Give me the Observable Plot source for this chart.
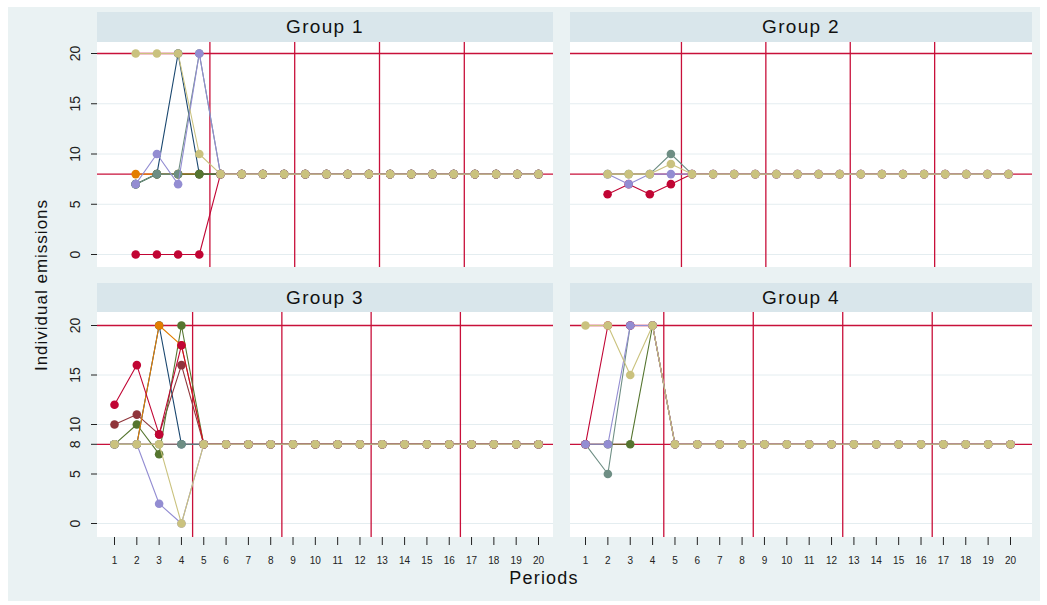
<!DOCTYPE html>
<html><head><meta charset="utf-8">
<script src="https://cdn.jsdelivr.net/npm/d3@7"></script>
<script src="https://cdn.jsdelivr.net/npm/@observablehq/plot@0.6"></script>
<style>
body{margin:0;background:#fff;font-family:"Liberation Sans",Arial,sans-serif;}
#root{position:relative;width:1047px;height:605px;overflow:hidden;}
.bg{position:absolute;left:8px;top:7px;width:1032px;height:594px;background:#eaf2f3;}
.hdr{position:absolute;background:#d9e6eb;color:#111;font-size:19px;letter-spacing:1.3px;display:flex;align-items:center;justify-content:center;}
.panel{position:absolute;}
.panel svg{display:block;overflow:visible;}
.ttl{position:absolute;font-size:17px;letter-spacing:1px;color:#111;white-space:nowrap;}
</style></head><body>
<div id="root">
  <div class="bg"></div>
  <div class="hdr" style="left:97px;top:12px;width:456px;height:30px;">Group 1</div>
  <div class="hdr" style="left:570px;top:12px;width:462px;height:30px;">Group 2</div>
  <div class="hdr" style="left:97px;top:283px;width:456px;height:29px;">Group 3</div>
  <div class="hdr" style="left:570px;top:283px;width:462px;height:29px;">Group 4</div>
  <div id="p1" class="panel"></div>
  <div id="p2" class="panel"></div>
  <div id="p3" class="panel"></div>
  <div id="p4" class="panel"></div>
  <div class="ttl" style="left:42px;top:285px;transform:translate(-50%,-50%) rotate(-90deg);">Individual emissions</div>
  <div class="ttl" style="left:544px;top:578px;font-size:18px;letter-spacing:1.2px;transform:translate(-50%,-50%);">Periods</div>
</div>
<script>
// ---- data ----
const periods = [1,2,3,4,5,6,7,8,9,10,11,12,13,14,15,16,17,18,19,20];
const seriesNames  = ["navy","maroon","forest","orange","teal","cranberry","lavender","khaki"];
const seriesColors = ["#1a476f","#90353b","#55752f","#e37e00","#6e8e84","#c10534","#938dd2","#cac27e"];
const refPeriods = [4.5, 8.5, 12.5, 16.5];
const refLevels = [8, 20];
const yTicksTop = [0, 5, 10, 15, 20];
const yTicksBottom = [0, 5, 8, 10, 15, 20];

// Group 1
const g1Orange    = [8,8,8,8,8,8,8,8,8,8,8,8,8,8,8,8,8,8,8,8];
const g1Navy      = [7,8,20,8,8,8,8,8,8,8,8,8,8,8,8,8,8,8,8,8];
const g1Forest    = [7,8,8,8,8,8,8,8,8,8,8,8,8,8,8,8,8,8,8,8];
const g1Teal      = [7,8,8,20,8,8,8,8,8,8,8,8,8,8,8,8,8,8,8,8];
const g1Cranberry = [0,0,0,0,8,8,8,8,8,8,8,8,8,8,8,8,8,8,8,8];
const g1Lavender  = [7,10,7,20,8,8,8,8,8,8,8,8,8,8,8,8,8,8,8,8];
const g1Khaki     = [20,20,20,10,8,8,8,8,8,8,8,8,8,8,8,8,8,8,8,8];
// Group 2
const g2Teal      = [8,8,8,10,8,8,8,8,8,8,8,8,8,8,8,8,8,8,8,8];
const g2Cranberry = [6,7,6,7,8,8,8,8,8,8,8,8,8,8,8,8,8,8,8,8];
const g2Lavender  = [8,7,8,8,8,8,8,8,8,8,8,8,8,8,8,8,8,8,8,8];
const g2Khaki     = [8,8,8,9,8,8,8,8,8,8,8,8,8,8,8,8,8,8,8,8];
// Group 3
const g3Navy      = [8,8,20,8,8,8,8,8,8,8,8,8,8,8,8,8,8,8,8,8];
const g3Maroon    = [10,11,9,16,8,8,8,8,8,8,8,8,8,8,8,8,8,8,8,8];
const g3Forest    = [8,10,7,20,8,8,8,8,8,8,8,8,8,8,8,8,8,8,8,8];
const g3Orange    = [8,8,20,18,8,8,8,8,8,8,8,8,8,8,8,8,8,8,8,8];
const g3Teal      = [8,8,8,8,8,8,8,8,8,8,8,8,8,8,8,8,8,8,8,8];
const g3Cranberry = [12,16,9,18,8,8,8,8,8,8,8,8,8,8,8,8,8,8,8,8];
const g3Lavender  = [8,8,2,0,8,8,8,8,8,8,8,8,8,8,8,8,8,8,8,8];
const g3Khaki     = [8,8,8,0,8,8,8,8,8,8,8,8,8,8,8,8,8,8,8,8];
// Group 4
const g4Forest    = [8,8,8,20,8,8,8,8,8,8,8,8,8,8,8,8,8,8,8,8];
const g4Teal      = [8,5,20,20,8,8,8,8,8,8,8,8,8,8,8,8,8,8,8,8];
const g4Cranberry = [8,20,20,20,8,8,8,8,8,8,8,8,8,8,8,8,8,8,8,8];
const g4Lavender  = [8,8,20,20,8,8,8,8,8,8,8,8,8,8,8,8,8,8,8,8];
const g4Khaki     = [20,20,15,20,8,8,8,8,8,8,8,8,8,8,8,8,8,8,8,8];

// draw order per group (later series on top)
const g1Order = [["orange", g1Orange], ["navy", g1Navy], ["forest", g1Forest], ["teal", g1Teal], ["cranberry", g1Cranberry], ["lavender", g1Lavender], ["khaki", g1Khaki]];
const g2Order = [["teal", g2Teal], ["cranberry", g2Cranberry], ["lavender", g2Lavender], ["khaki", g2Khaki]];
const g3Order = [["navy", g3Navy], ["maroon", g3Maroon], ["forest", g3Forest], ["orange", g3Orange], ["teal", g3Teal], ["cranberry", g3Cranberry], ["lavender", g3Lavender], ["khaki", g3Khaki]];
const g4Order = [["forest", g4Forest], ["teal", g4Teal], ["cranberry", g4Cranberry], ["lavender", g4Lavender], ["khaki", g4Khaki]];

const RED = "#c8103a";
const GRID = "#e4edf0";
const color = name => seriesColors[seriesNames.indexOf(name)];

function panel(id, order, o) {
  const marks = [
    Plot.ruleY(o.grid, {stroke: GRID, strokeWidth: 1}),
    Plot.ruleX(refPeriods, {stroke: RED, strokeWidth: 1.3}),
    Plot.ruleY(refLevels, {stroke: RED, strokeWidth: 1.3})
  ];
  for (const [name, vals] of order) {
    const d = periods.map((p, i) => ({series: name, period: p, value: vals[i]}));
    marks.push(Plot.line(d, {x: "period", y: "value", stroke: color(name), strokeWidth: 1.1}));
    marks.push(Plot.dot(d, {x: "period", y: "value", fill: color(name), r: 4.3}));
  }
  if (o.showY) marks.push(Plot.axisY({ticks: o.yTicks, tickSize: 6, tickPadding: 12, tickRotate: -90, fontSize: 14, line: true, stroke: "#222", color: "#222", label: null}));
  if (o.showX) marks.push(Plot.axisX({ticks: periods, tickSize: 8, tickPadding: 11, fontSize: 10, line: true, stroke: "#222", color: "#222", label: null, tickFormat: d => String(d)}));
  const chart = Plot.plot({
    width: o.width, height: o.height,
    marginLeft: o.marginLeft, marginRight: 0, marginTop: 0, marginBottom: o.marginBottom,
    style: {background: "transparent", fontFamily: "Liberation Sans, Arial, sans-serif"},
    x: {domain: o.xDomain, insetLeft: o.insetLeft, insetRight: o.insetRight, axis: null},
    y: {domain: [0, 20], insetTop: o.insetTop, insetBottom: o.insetBottom, axis: null},
    marks
  });
  const el = document.getElementById(id);
  el.style.left = o.left + "px";
  el.style.top = o.top + "px";
  el.appendChild(chart);
  const rect = document.createElementNS("http://www.w3.org/2000/svg", "rect");
  rect.setAttribute("x", o.marginLeft); rect.setAttribute("y", 0);
  rect.setAttribute("width", o.width - o.marginLeft); rect.setAttribute("height", o.height - o.marginBottom);
  rect.setAttribute("fill", "#fff");
  chart.insertBefore(rect, chart.firstChild);
}

panel("p1", g1Order, {left: 57, top: 42, width: 496, height: 225, marginLeft: 40, marginBottom: 0,
  xDomain: [0, 20], insetLeft: 17, insetRight: 15, insetTop: 11, insetBottom: 13,
  grid: yTicksTop, yTicks: yTicksTop, showY: true, showX: false});
panel("p2", g2Order, {left: 570, top: 42, width: 462, height: 225, marginLeft: 0, marginBottom: 0,
  xDomain: [0, 20], insetLeft: 16, insetRight: 24, insetTop: 11, insetBottom: 13,
  grid: yTicksTop, showY: false, showX: false});
panel("p3", g3Order, {left: 57, top: 312, width: 496, height: 260, marginLeft: 40, marginBottom: 35,
  xDomain: [1, 20], insetLeft: 17, insetRight: 15, insetTop: 13, insetBottom: 14,
  grid: yTicksBottom, yTicks: yTicksBottom, showY: true, showX: true});
panel("p4", g4Order, {left: 570, top: 312, width: 462, height: 260, marginLeft: 0, marginBottom: 35,
  xDomain: [1, 20], insetLeft: 15, insetRight: 22, insetTop: 13, insetBottom: 14,
  grid: yTicksBottom, showY: false, showX: true});
</script>
</body></html>
